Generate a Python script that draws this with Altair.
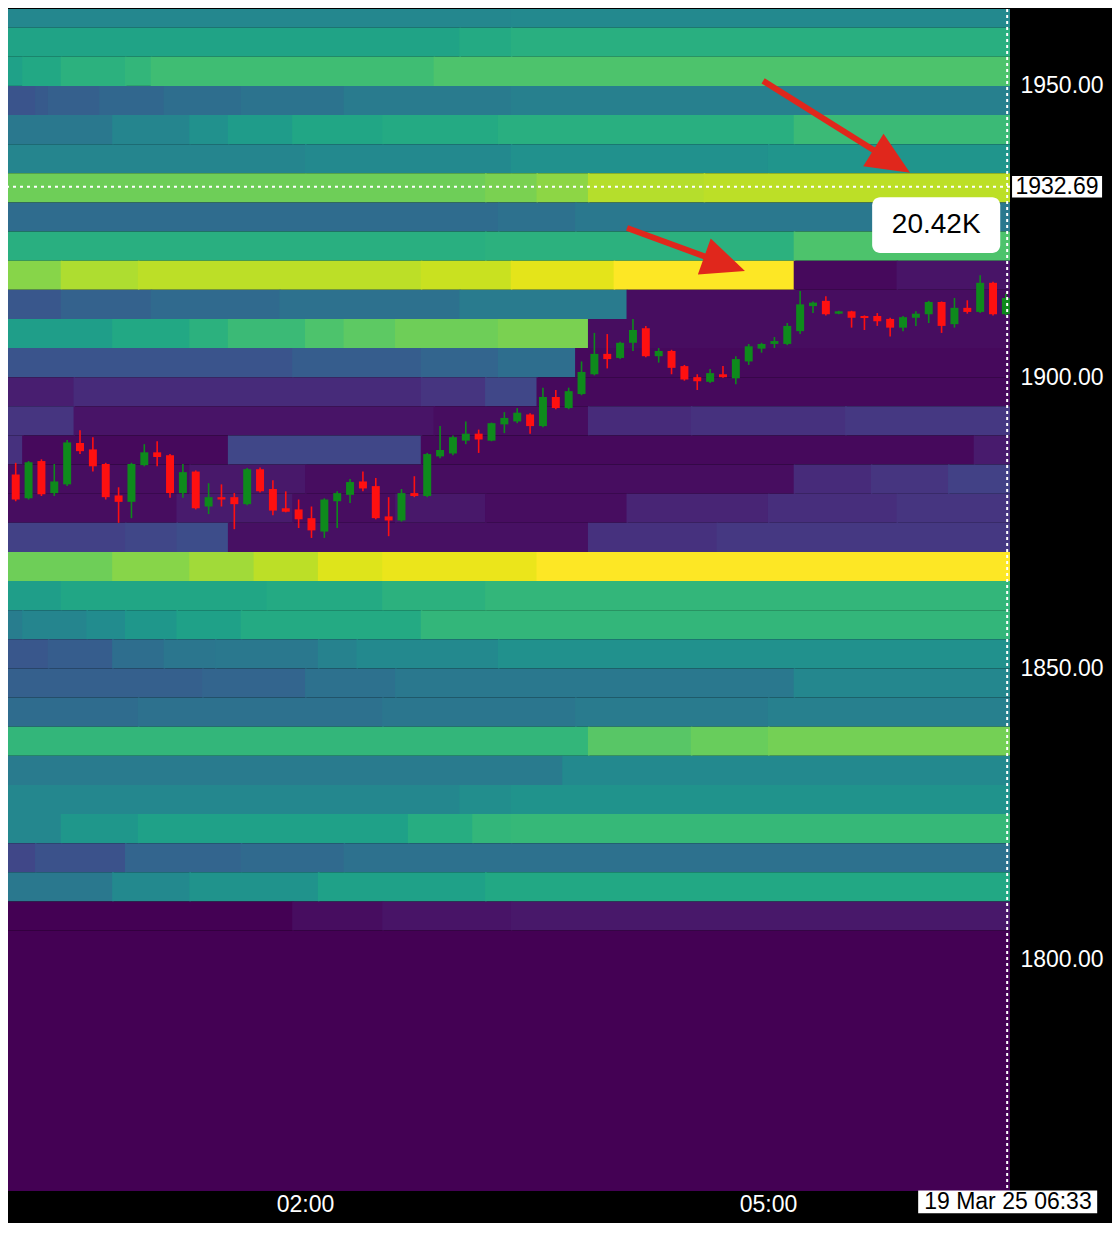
import altair as alt
import pandas as pd

# ---------------- data ----------------
# Heatmap: price bands given by their lower bound (each band reaches up to the
# previous band's lower bound; the first reaches TOP_PRICE); piecewise segments
# along time. Segment starts are 5-minute column indices (col 0 = 00:00),
# values on a 0..1 scale.
TOP_PRICE = 1965
ROW_LOWS = [1960, 1955, 1950, 1945, 1940, 1935, 1930, 1925, 1920, 1915,
            1910, 1905, 1900, 1895, 1890, 1885, 1880, 1875, 1870, 1865,
            1860, 1855, 1850, 1845, 1840, 1835, 1830, 1825, 1820, 1815,
            1810, 1805, 1755]
SEG_STARTS = [
    [0, 40],
    [0, 36, 40],
    [0, 2, 5, 10, 12, 34],
    [0, 3, 4, 8, 13, 19, 27, 40],
    [0, 9, 15, 18, 23, 30, 39, 62],
    [0, 24, 40, 60],
    [0, 38, 42, 46, 55],
    [0, 39, 45],
    [0, 38, 62],
    [0, 5, 11, 33, 40, 48, 62, 70],
    [0, 5, 12, 22, 36, 49],
    [0, 9, 15, 18, 24, 27, 31, 39, 46],
    [0, 23, 33, 39, 45],
    [0, 6, 33, 38, 42],
    [0, 6, 34, 46, 54, 66],
    [0, 2, 18, 33, 76],
    [0, 15, 24, 62, 68, 74],
    [0, 14, 23, 31, 38, 49, 60, 70],
    [0, 10, 14, 18, 46, 56],
    [0, 9, 15, 20, 25, 30, 42],
    [0, 5, 21, 30, 38],
    [0, 2, 7, 10, 14, 19, 33],
    [0, 4, 9, 13, 17, 25, 28, 39],
    [0, 16, 24, 31, 62],
    [0, 11, 30, 45, 60],
    [0, 46, 54, 60],
    [0, 44],
    [0, 36, 40],
    [0, 5, 11, 32, 37, 40],
    [0, 3, 10, 19, 27],
    [0, 9, 15, 25, 38],
    [0, 23, 30, 40],
    [0],
]
SEG_VALUES = [
    [0.46, 0.47],
    [0.58, 0.61, 0.63],
    [0.57, 0.60, 0.64, 0.66, 0.69, 0.72],
    [0.26, 0.28, 0.30, 0.33, 0.36, 0.38, 0.41, 0.43],
    [0.40, 0.45, 0.50, 0.55, 0.59, 0.61, 0.63, 0.68],
    [0.45, 0.47, 0.50, 0.52],
    [0.78, 0.80, 0.83, 0.89, 0.90],
    [0.35, 0.37, 0.40],
    [0.63, 0.64, 0.72],
    [0.82, 0.88, 0.90, 0.92, 0.96, 1.00, 0.02, 0.05],
    [0.27, 0.31, 0.34, 0.37, 0.41, 0.03],
    [0.56, 0.60, 0.64, 0.68, 0.72, 0.75, 0.78, 0.80, 0.03],
    [0.26, 0.29, 0.32, 0.36, 0.02],
    [0.08, 0.12, 0.15, 0.21, 0.02],
    [0.15, 0.05, 0.03, 0.12, 0.14, 0.16],
    [0.14, 0.02, 0.21, 0.02, 0.07],
    [0.03, 0.06, 0.03, 0.12, 0.15, 0.19],
    [0.03, 0.07, 0.03, 0.06, 0.03, 0.10, 0.13, 0.15],
    [0.19, 0.21, 0.23, 0.04, 0.14, 0.16],
    [0.78, 0.82, 0.86, 0.90, 0.95, 0.97, 1.00],
    [0.56, 0.59, 0.61, 0.64, 0.66],
    [0.42, 0.45, 0.48, 0.53, 0.57, 0.61, 0.66],
    [0.27, 0.29, 0.36, 0.39, 0.40, 0.44, 0.47, 0.50],
    [0.30, 0.32, 0.37, 0.40, 0.46],
    [0.35, 0.37, 0.39, 0.41, 0.43],
    [0.66, 0.74, 0.77, 0.79],
    [0.41, 0.47],
    [0.46, 0.49, 0.51],
    [0.46, 0.53, 0.57, 0.62, 0.66, 0.67],
    [0.21, 0.25, 0.32, 0.34, 0.37],
    [0.40, 0.47, 0.51, 0.57, 0.60],
    [0.00, 0.03, 0.05, 0.06],
    [0.0],
]
COL_MINUTES = 5
HEAT_END_COL = 80
SEG_OVERLAP = 0.6  # minutes, hides seams between neighbouring segments

# 5-minute candles starting 00:00
OPEN = [1879.3, 1883.3, 1879.2, 1885.6, 1880.1, 1881.6, 1888.7, 1887.6, 1885.1, 1879.7,
        1878.6, 1884.9, 1887.1, 1886.6, 1880.1, 1883.8, 1877.8, 1879.4, 1879.4, 1878.2,
        1884.2, 1880.8, 1877.5, 1877.3, 1875.8, 1873.5, 1878.7, 1879.8, 1882.1, 1881.3,
        1876.1, 1875.4, 1880.1, 1879.6, 1886.4, 1886.9, 1889.1, 1890.3, 1889.1, 1891.9,
        1892.4, 1893.6, 1891.6, 1896.6, 1894.7, 1897.1, 1900.5, 1904.0, 1903.3, 1905.9,
        1908.4, 1903.6, 1904.5, 1901.9, 1900.0, 1899.2, 1900.5, 1899.8, 1902.7, 1904.9,
        1905.7, 1905.7, 1907.9, 1912.2, 1913.1, 1910.9, 1911.3, 1910.5, 1910.5, 1910.0,
        1908.5, 1910.2, 1910.8, 1912.9, 1909.1, 1911.9, 1911.2, 1916.2, 1910.8]
HIGH = [1884.2, 1885.3, 1885.6, 1885.9, 1885.1, 1889.2, 1890.9, 1889.7, 1885.3, 1881.1,
        1885.3, 1888.5, 1889.0, 1886.8, 1885.1, 1884.0, 1881.8, 1881.6, 1880.1, 1884.4,
        1884.5, 1882.3, 1880.4, 1879.0, 1877.8, 1879.2, 1880.4, 1882.5, 1883.8, 1882.7,
        1879.4, 1880.8, 1883.0, 1887.0, 1891.6, 1890.0, 1892.4, 1891.0, 1892.2, 1894.0,
        1894.7, 1893.8, 1898.2, 1897.8, 1898.2, 1902.7, 1907.6, 1907.4, 1906.1, 1910.0,
        1908.8, 1905.0, 1904.7, 1902.1, 1900.5, 1901.4, 1901.9, 1903.6, 1905.7, 1905.9,
        1906.9, 1909.3, 1914.8, 1913.0, 1913.9, 1911.4, 1911.4, 1910.6, 1911.0, 1910.2,
        1910.5, 1911.3, 1913.1, 1913.0, 1913.6, 1913.2, 1917.5, 1916.4, 1914.3]
LOW = [1879.0, 1878.7, 1879.0, 1879.6, 1879.6, 1881.3, 1886.8, 1883.8, 1879.0, 1875.0,
       1875.8, 1884.7, 1884.7, 1879.3, 1879.3, 1877.3, 1876.5, 1877.8, 1873.9, 1878.0,
       1880.2, 1876.3, 1876.8, 1874.1, 1872.4, 1872.4, 1874.1, 1878.4, 1880.4, 1875.6,
       1872.7, 1875.2, 1879.4, 1879.4, 1886.1, 1886.6, 1888.5, 1887.0, 1889.0, 1890.4,
       1892.1, 1890.3, 1891.4, 1894.5, 1894.5, 1896.9, 1900.3, 1901.5, 1903.1, 1904.5,
       1903.4, 1902.5, 1900.5, 1899.4, 1897.8, 1899.0, 1899.9, 1898.8, 1902.1, 1904.2,
       1905.0, 1905.5, 1907.4, 1911.0, 1910.6, 1910.8, 1908.5, 1908.1, 1908.8, 1907.0,
       1907.9, 1908.8, 1909.3, 1907.6, 1908.5, 1910.9, 1911.0, 1910.6, 1910.6]
CLOSE = [1883.6, 1879.0, 1885.4, 1879.9, 1882.1, 1888.8, 1887.3, 1884.7, 1879.4, 1878.6,
         1885.1, 1887.1, 1886.3, 1880.1, 1883.7, 1877.5, 1879.4, 1879.0, 1878.2, 1884.2,
         1880.4, 1877.1, 1876.9, 1875.6, 1873.7, 1879.0, 1880.1, 1882.0, 1880.9, 1875.8,
         1875.4, 1880.1, 1879.6, 1886.8, 1887.5, 1889.7, 1890.3, 1889.3, 1892.1, 1893.0,
         1893.9, 1891.6, 1896.6, 1894.7, 1897.6, 1900.9, 1904.0, 1903.1, 1905.9, 1908.1,
         1903.6, 1904.5, 1901.6, 1899.6, 1899.3, 1900.7, 1900.0, 1903.1, 1905.3, 1905.7,
         1906.2, 1908.8, 1912.5, 1912.8, 1910.8, 1911.3, 1910.2, 1910.2, 1909.6, 1908.5,
         1910.3, 1910.9, 1912.9, 1908.8, 1911.9, 1911.2, 1916.2, 1910.8, 1913.6]
CANDLE_MINUTES = 5

X_TICKS = [120, 300]
X_TICK_LABELS = ["02:00", "05:00"]
Y_TICKS = [1800, 1850, 1900, 1950]
X_DOMAIN = [4.5, 394.1]
Y_DOMAIN = [1760.3, 1963.2]

CURRENT_MIN = [393.0]
MARK_PRICE = [1932.69]
PRICE_LABEL = ["1932.69"]
PRICE_BOX_X = [394.9, 429.9]
PRICE_TEXT_X = [396.2]
TIME_LABEL = ["19 Mar 25 06:33"]
TIME_BOX_X = [358.4, 428.0]
TIME_BOX_Y = [1756.5, 1760.4]
TIME_TEXT_POS = [393.3, 1758.4]
TIP_TEXT = ["20.42K"]
TIP_BOX_X = [340.5, 390.3]
TIP_BOX_Y = [1921.3, 1930.9]
TIP_TEXT_POS = [365.4, 1926.1]

ARROW_X0 = [298.1, 245.2]
ARROW_Y0 = [1950.86, 1925.6]
ARROW_X1 = [347.7, 282.7]
ARROW_Y1 = [1937.15, 1919.54]
ARROW_ANGLE = [122, 109.6]

# ---------------- styles ----------------
GREEN = "#0e8a1c"
RED = "#ff1010"
ARROW_RED = "#e0271c"
FONT = "Liberation Sans"
BODY_HALF = 1.55  # minutes

# ---------------- tables ----------------
heat_rows = []
prev_top = TOP_PRICE
for low, starts, vals in zip(ROW_LOWS, SEG_STARTS, SEG_VALUES):
    for j, (s, v) in enumerate(zip(starts, vals)):
        last = j + 1 >= len(starts)
        e = HEAT_END_COL if last else starts[j + 1]
        heat_rows.append({"t0": s * COL_MINUTES,
                          "t1": e * COL_MINUTES + (0 if last else SEG_OVERLAP),
                          "p0": low, "p1": prev_top, "v": v})
    prev_top = low
heat_df = pd.DataFrame(heat_rows)

n = len(OPEN)
cdf = pd.DataFrame({
    "t": [i * CANDLE_MINUTES + CANDLE_MINUTES / 2 for i in range(n)],
    "open": OPEN, "high": HIGH, "low": LOW, "close": CLOSE,
})
cdf["col"] = [GREEN if c >= o else RED for o, c in zip(OPEN, CLOSE)]

label_expr = "".join(f"datum.value == {v} ? '{l}' : " for v, l in zip(X_TICKS, X_TICK_LABELS)) + "''"

xs = alt.Scale(domain=X_DOMAIN, nice=False, zero=False)
ys = alt.Scale(domain=Y_DOMAIN, nice=False, zero=False)
x_axis = alt.Axis(values=X_TICKS, labelExpr=label_expr, title=None, grid=False,
                  ticks=False, domain=False, labelColor="white", labelFontSize=23,
                  labelFont=FONT, labelPadding=2)
y_axis = alt.Axis(orient="right", values=Y_TICKS, format=".2f", title=None, grid=False,
                  ticks=False, domain=False, labelColor="white", labelFontSize=23,
                  labelFont=FONT, labelPadding=10)


def X(f):
    return alt.X(f, scale=xs, axis=x_axis)


def Y(f):
    return alt.Y(f, scale=ys, axis=y_axis)


heat = alt.Chart(heat_df).mark_rect(clip=True).encode(
    x=X("t0:Q"), x2="t1:Q", y=Y("p0:Q"), y2="p1:Q",
    color=alt.Color("v:Q", scale=alt.Scale(scheme="viridis", domain=[0, 1]), legend=None),
)

wicks = alt.Chart(cdf).mark_rule(strokeWidth=1.6, clip=True).encode(
    x=X("t:Q"), y=Y("low:Q"), y2="high:Q",
    stroke=alt.Stroke("col:N", scale=None),
)

bodies = alt.Chart(cdf).transform_calculate(
    bx0=f"datum.t - {BODY_HALF}",
    bx1=f"datum.t + {BODY_HALF}",
    btop="max(datum.open, datum.close)",
    bbot="max(datum.open, datum.close) - max(abs(datum.open - datum.close), 0.35)",
).mark_rect(clip=True).encode(
    x=X("bx0:Q"), x2="bx1:Q", y=Y("bbot:Q"), y2="btop:Q",
    fill=alt.Fill("col:N", scale=None),
)

vline = alt.Chart(pd.DataFrame({"t": CURRENT_MIN})).mark_rule(
    color="white", strokeWidth=2, strokeDash=[3, 3]
).encode(x=X("t:Q"))

hline = alt.Chart(pd.DataFrame({"p": MARK_PRICE})).mark_rule(
    color="white", strokeWidth=2, strokeDash=[3, 4], clip=True
).encode(y=Y("p:Q"))

arrow_df = pd.DataFrame({"x0": ARROW_X0, "y0": ARROW_Y0, "x1": ARROW_X1,
                         "y1": ARROW_Y1, "ang": ARROW_ANGLE})
shafts = alt.Chart(arrow_df).mark_rule(color=ARROW_RED, strokeWidth=6).encode(
    x=X("x0:Q"), y=Y("y0:Q"), x2="x1:Q", y2="y1:Q"
)
heads = alt.Chart(arrow_df).mark_point(
    shape="M0,-0.95L0.8,0.85L-0.8,0.85Z", filled=True, size=2300,
    color=ARROW_RED, opacity=1, strokeWidth=0
).encode(x=X("x1:Q"), y=Y("y1:Q"), angle=alt.Angle("ang:Q", scale=None))

tip_box = alt.Chart(pd.DataFrame({"a": [TIP_BOX_X[0]], "b": [TIP_BOX_X[1]],
                                  "c": [TIP_BOX_Y[0]], "d": [TIP_BOX_Y[1]]})).mark_rect(
    color="white", cornerRadius=8
).encode(x=X("a:Q"), x2="b:Q", y=Y("c:Q"), y2="d:Q")
tip_text = alt.Chart(pd.DataFrame({"x": [TIP_TEXT_POS[0]], "y": [TIP_TEXT_POS[1]],
                                   "s": TIP_TEXT})).mark_text(
    color="black", fontSize=28, font=FONT, align="center", baseline="middle"
).encode(x=X("x:Q"), y=Y("y:Q"), text="s:N")

price_box = alt.Chart(pd.DataFrame({"a": [PRICE_BOX_X[0]], "b": [PRICE_BOX_X[1]],
                                    "c": [MARK_PRICE[0] - 1.85], "d": [MARK_PRICE[0] + 1.85]})).mark_rect(
    color="white"
).encode(x=X("a:Q"), x2="b:Q", y=Y("c:Q"), y2="d:Q")
price_text = alt.Chart(pd.DataFrame({"x": PRICE_TEXT_X, "y": MARK_PRICE,
                                     "s": PRICE_LABEL})).mark_text(
    color="black", fontSize=23, font=FONT, align="left", baseline="middle"
).encode(x=X("x:Q"), y=Y("y:Q"), text="s:N")

time_box = alt.Chart(pd.DataFrame({"a": [TIME_BOX_X[0]], "b": [TIME_BOX_X[1]],
                                   "c": [TIME_BOX_Y[0]], "d": [TIME_BOX_Y[1]]})).mark_rect(
    color="white"
).encode(x=X("a:Q"), x2="b:Q", y=Y("c:Q"), y2="d:Q")
time_text = alt.Chart(pd.DataFrame({"x": [TIME_TEXT_POS[0]], "y": [TIME_TEXT_POS[1]],
                                    "s": TIME_LABEL})).mark_text(
    color="black", fontSize=23, font=FONT, align="center", baseline="middle"
).encode(x=X("x:Q"), y=Y("y:Q"), text="s:N")

chart = alt.layer(
    heat, wicks, bodies, hline, vline, shafts, heads,
    tip_box, tip_text, price_box, price_text, time_box, time_text,
).properties(
    width=1002, height=1182, background="black",
    padding={"left": 0, "top": 0, "right": 8, "bottom": 7},
).configure_view(strokeWidth=0)

chart.save("out.html", embed_options={"renderer": "svg", "actions": False})
